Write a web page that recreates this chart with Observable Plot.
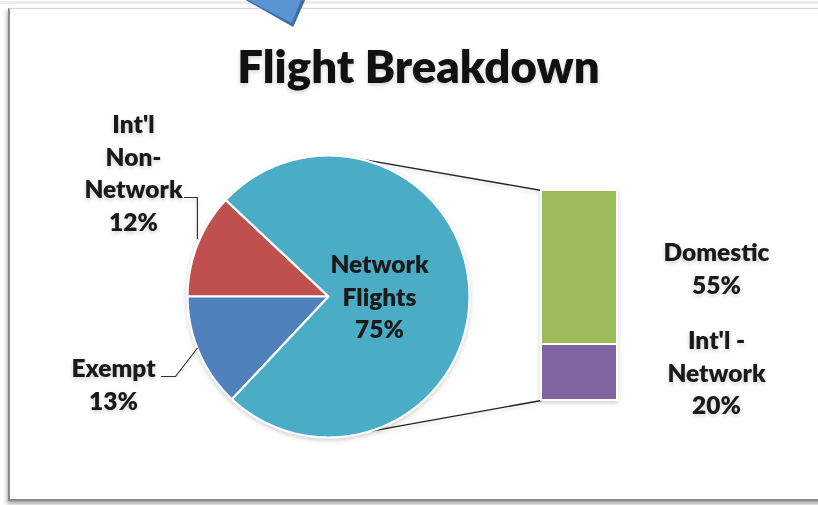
<!DOCTYPE html>
<html>
<head>
<meta charset="utf-8">
<script src="https://cdn.jsdelivr.net/npm/d3@7"></script>
<script src="https://cdn.jsdelivr.net/npm/@observablehq/plot@0.6"></script>
<style>
  html, body { margin: 0; padding: 0; background: #fff; }
  #wrap { position: relative; width: 818px; height: 505px; overflow: hidden; background: #fff; }
  #topline { position: absolute; left: 0; top: 1px; width: 818px; height: 3px; background: #ececec; }
  #frame { position: absolute; left: 8px; top: 8px; width: 830px; height: 490px; background: #fff;
           border-left: 2px solid #8a8a8a; border-top: 1px solid #d8d8d8; border-bottom: 2px solid #8a8a8a;
           box-shadow: -1px 3px 4px rgba(0,0,0,0.35); }
  #arrow { position: absolute; left: 242px; top: -2px; width: 64px; height: 29px; background: #3f6ea6;
           clip-path: polygon(0 0, 100% 0, 80% 100%); }
  #arrow2 { position: absolute; left: 244px; top: -2px; width: 58px; height: 25px; background: #5b94d3;
           clip-path: polygon(0 0, 100% 0, 82% 100%); }
  #chart { position: absolute; left: 0; top: 0; }
  #chart svg { filter: drop-shadow(0px 2px 2px rgba(0,0,0,0.18)); }
</style>
</head>
<body>
<div id="wrap">
  <div id="topline"></div>
  <div id="frame"></div>
  <div id="chart"></div>
  <div id="arrow"></div>
  <div id="arrow2"></div>
</div>
<script>
// ---- data ----
const title = "Flight Breakdown";
const pieNames = ["Int'l Non-Network", "Exempt", "Network Flights"];
const pieValues = [12, 13, 75];
const pieColors = ["#C0504D", "#4F81BD", "#4BACC6"];
const pieLabels = [["Int'l", "Non-", "Network", "12%"], ["Exempt", "13%"], ["Network", "Flights", "75%"]];
const barNames = ["Domestic", "Int'l - Network"];
const barValues = [55, 20];
const barColors = ["#9BBB59", "#8064A2"];
const barLabels = [["Domestic", "55%"], ["Int'l -", "Network", "20%"]];

// ---- layout (pixel space) ----
const W = 818, H = 505;
const cx = 328, cy = 296, R = 141;
const barX1 = 541, barX2 = 617, barTop = 190, barBottom = 400;
const font = "Lato, 'Open Sans', sans-serif";

// pie slices: first slice ends at the left horizontal (180deg), going counter-clockwise
const total = d3.sum(pieValues);
let a0 = 180 - pieValues[0] / total * 360;
const slices = pieValues.map((v, i) => {
  const s = a0, e = a0 + v / total * 360;
  a0 = e;
  return {name: pieNames[i], start: s, end: e, mid: (s + e) / 2};
});
const pt = (deg, r = R) => {
  const t = deg * Math.PI / 180;
  return [cx + r * Math.cos(t), cy - r * Math.sin(t)];
};
const pieRows = [];
slices.forEach((s, i) => {
  pieRows.push({name: s.name, x: cx, y: cy, c: pieColors[i]});
  const n = Math.ceil((s.end - s.start) / 0.5);
  for (let k = 0; k <= n; k++) {
    const [x, y] = pt(s.start + (s.end - s.start) * k / n);
    pieRows.push({name: s.name, x, y, c: pieColors[i]});
  }
  pieRows.push({name: s.name, x: cx, y: cy, c: pieColors[i]});
});

// bar segments (breakdown of the network slice)
const barTotal = d3.sum(barValues);
let acc = 0;
const barRows = barValues.map((v, i) => {
  const y1 = barTop + acc / barTotal * (barBottom - barTop);
  acc += v;
  const y2 = barTop + acc / barTotal * (barBottom - barTop);
  return {name: barNames[i], x1: barX1, x2: barX2, y1, y2, c: barColors[i]};
});

// connector lines from the network slice to the bar
const [tx, ty] = pt(78), [bx, by] = pt(-73);
const connectors = [
  {k: "top", x: tx, y: ty}, {k: "top", x: barX1, y: barTop},
  {k: "bot", x: bx, y: by}, {k: "bot", x: barX1, y: barBottom}
];

// leader lines for outside labels
const [rx, ry] = pt(slices[0].mid), [ex, ey] = pt(slices[1].mid);
const leaders = [
  {k: "r", x: rx, y: ry - 6}, {k: "r", x: rx, y: 197}, {k: "r", x: 184, y: 197},
  {k: "e", x: ex - 2, y: ey - 4}, {k: "e", x: 175, y: 376}, {k: "e", x: 161, y: 376}
];

// labels
const lineGap = 32.5;
const textRows = [];
const addLabel = (lines, x, yFirst) => lines.forEach((t, j) => textRows.push({t, x, y: yFirst + j * lineGap}));
addLabel(pieLabels[0], 133, 125);
addLabel(pieLabels[1], 113, 369);
addLabel(pieLabels[2], 379, 265);
addLabel(barLabels[0], 716, 253);
addLabel(barLabels[1], 716, 341);

const chart = Plot.plot({
  width: W, height: H,
  margin: 0,
  style: {background: "transparent", overflow: "visible"},
  x: {domain: [0, W], range: [0, W], axis: null},
  y: {domain: [0, H], range: [0, H], axis: null},
  marks: [
    Plot.line(connectors, {x: "x", y: "y", z: "k", stroke: "#222", strokeWidth: 1.3}),
    Plot.line(pieRows, {x: "x", y: "y", z: "name", fill: "c", stroke: "#ffffff", strokeWidth: 2.2, strokeLinejoin: "round"}),
    Plot.rect(barRows, {x1: "x1", x2: "x2", y1: "y1", y2: "y2", fill: "c", stroke: "#ffffff", strokeWidth: 2}),
    Plot.line(leaders, {x: "x", y: "y", z: "k", stroke: "#333", strokeWidth: 1.2}),
    Plot.text(textRows, {x: "x", y: "y", text: "t", fontSize: 24.5, fontWeight: 800, fill: "#1a1a1a", fontFamily: font}),
    Plot.text([title], {x: () => 418, y: () => 68, text: d => d, fontSize: 45.5, fontWeight: 800, fill: "#111", fontFamily: font})
  ]
});
document.getElementById("chart").appendChild(chart);
</script>
</body>
</html>
